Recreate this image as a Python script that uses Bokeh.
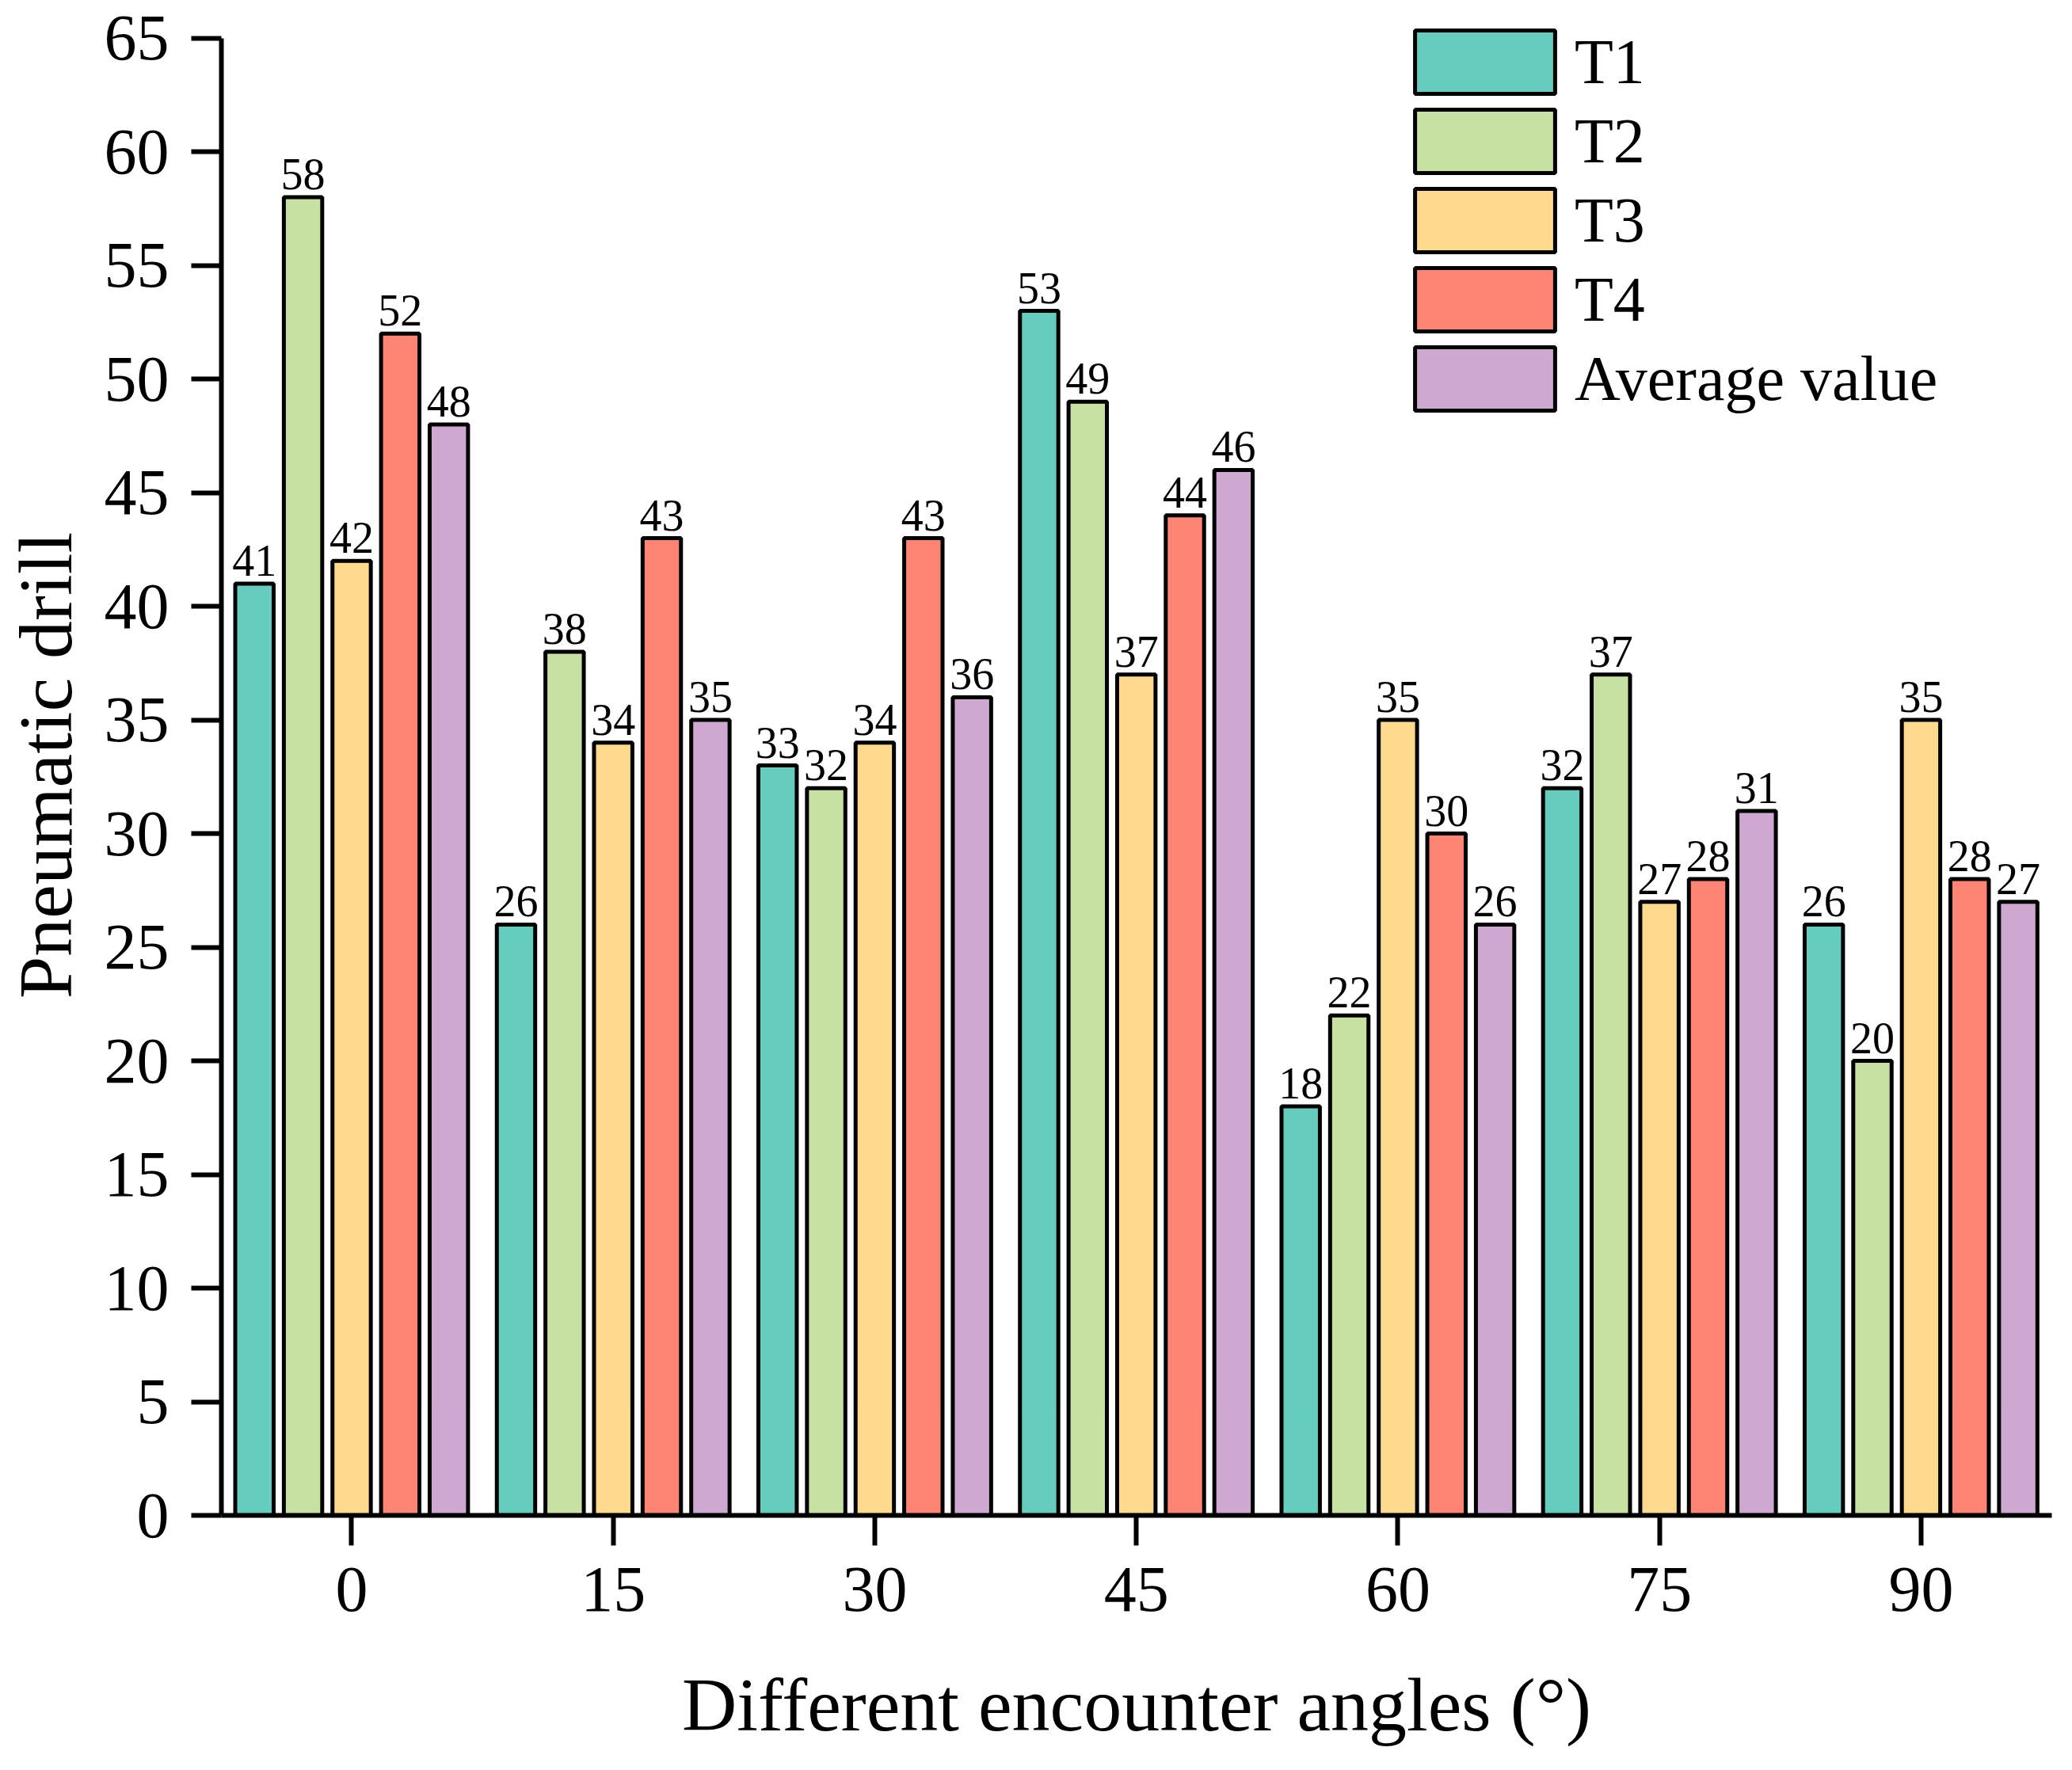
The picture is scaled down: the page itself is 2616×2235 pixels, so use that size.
from bokeh.plotting import figure
from bokeh.models import FixedTicker, Range1d, Legend, LegendItem, ColumnDataSource
from bokeh.transform import dodge
from bokeh.core.properties import value
from bokeh.embed import file_html
from bokeh.resources import INLINE

# ---- data ----
angles = [0, 15, 30, 45, 60, 75, 90]
series_names = ["T1", "T2", "T3", "T4", "Average value"]
t1 = [41, 26, 33, 53, 18, 32, 26]
t2 = [58, 38, 32, 49, 22, 37, 20]
t3 = [42, 34, 34, 37, 35, 27, 35]
t4 = [52, 43, 43, 44, 30, 28, 28]
avg = [48, 35, 36, 46, 26, 31, 27]
y_ticks = [0, 5, 10, 15, 20, 25, 30, 35, 40, 45, 50, 55, 60, 65]
x_label = "Different encounter angles (\u00b0)"
y_label = "Pneumatic drill"

colors = ["#66CDBE", "#C6E1A2", "#FED98E", "#FE8473", "#CFA8D1"]
FONT = "Liberation Serif"

pitch = 2.787
bar_w = 2.2

p = figure(width=2600, height=2219, output_backend="svg", toolbar_location=None,
           x_range=Range1d(-7.47, 97.5), y_range=Range1d(0, 66),
           min_border_left=265, min_border_right=10, min_border_top=19,
           min_border_bottom=306)

items = []
for i, (name, vals, col) in enumerate(zip(series_names, [t1, t2, t3, t4, avg], colors)):
    src = ColumnDataSource(dict(x=angles, top=vals, lab=[str(v) for v in vals]))
    off = (i - 2) * pitch
    r = p.vbar(x=dodge("x", off, range=p.x_range), top="top", bottom=0, width=bar_w,
               source=src, fill_color=col, line_color="black", line_width=5)
    p.text(x=dodge("x", off, range=p.x_range), y="top", text="lab", source=src,
           text_align="center", text_baseline="bottom", y_offset=-10,
           text_font=value(FONT), text_font_size="56px", text_color="black")
    items.append(LegendItem(label=name, renderers=[r]))

legend = Legend(items=items, location=(1485, 1385), glyph_width=221, glyph_height=100,
                spacing=0, label_text_font=FONT, label_text_font_size="80px",
                label_text_color="black", label_standoff=3, padding=0, margin=0,
                border_line_color=None, background_fill_alpha=0, label_height=80)
p.add_layout(legend)

p.xaxis.ticker = FixedTicker(ticks=angles)
p.yaxis.ticker = FixedTicker(ticks=y_ticks)
p.yaxis.bounds = (0, 65)
p.xaxis.axis_label = x_label
p.yaxis.axis_label = y_label
for ax in (p.xaxis[0], p.yaxis[0]):
    ax.axis_line_width = 6
    ax.axis_line_color = "black"
    ax.major_tick_line_width = 6
    ax.major_tick_line_color = "black"
    ax.major_tick_out = 38
    ax.major_tick_in = 0
    ax.minor_tick_line_color = None
    ax.major_label_text_font = FONT
    ax.major_label_text_font_size = "82px"
    ax.major_label_text_color = "black"
    ax.major_label_standoff = 28
    ax.axis_label_text_font = FONT
    ax.axis_label_text_font_size = "96px"
    ax.axis_label_text_font_style = "normal"
    ax.axis_label_text_color = "black"
p.xaxis.axis_label_standoff = 62
p.yaxis.axis_label_standoff = 18

p.xgrid.visible = False
p.ygrid.visible = False
p.outline_line_color = None

open("out.html", "w").write(file_html(p, INLINE))
